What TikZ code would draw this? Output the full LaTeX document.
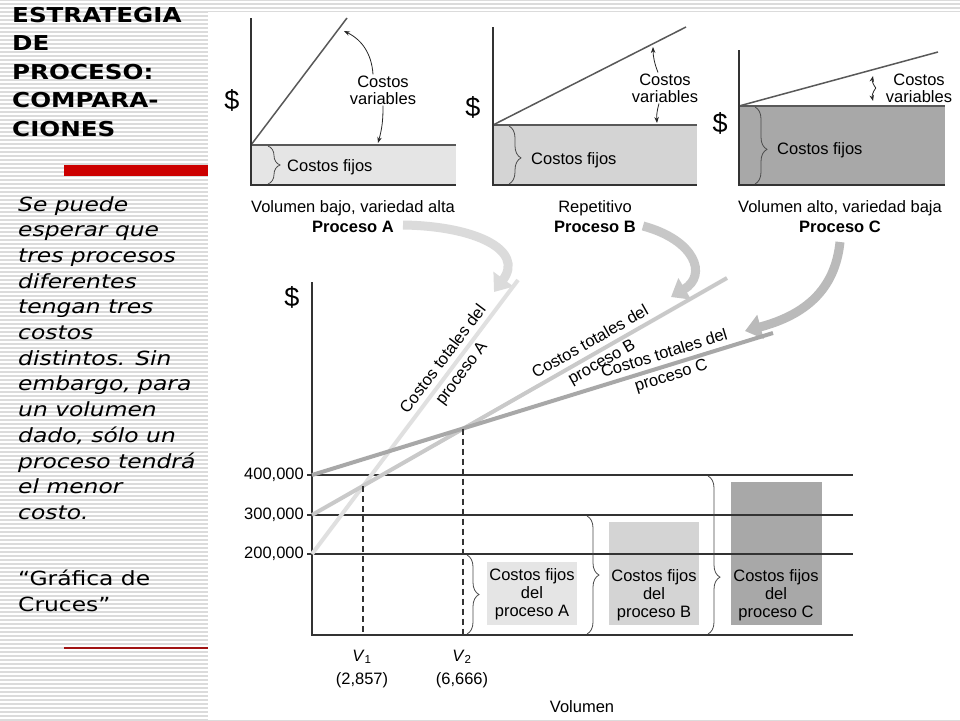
\documentclass[tikz,border=0pt]{standalone}
\usepackage{fontspec}
\setmainfont{Liberation Sans}
\newfontfamily\slidefont[FakeStretch=1.2]{DejaVu Sans}
\usetikzlibrary{arrows.meta,decorations.pathreplacing}

\definecolor{stripe}{gray}{0.86}
\definecolor{barred}{RGB}{204,0,0}
\definecolor{thinred}{RGB}{160,20,20}
\definecolor{fixA}{gray}{0.90}
\definecolor{fixB}{gray}{0.83}
\definecolor{fixC}{gray}{0.66}
\definecolor{lineA}{gray}{0.88}
\definecolor{lineB}{gray}{0.79}
\definecolor{lineC}{gray}{0.66}
\definecolor{arrA}{gray}{0.86}
\definecolor{arrB}{gray}{0.78}
\definecolor{arrC}{gray}{0.73}

\begin{document}
\begin{tikzpicture}[x=1pt,y=-1pt,
    txt/.style={inner sep=1pt,font=\fontsize{16.5}{17}\selectfont},
    captxt/.style={txt,align=center,font=\fontsize{16.5}{20}\selectfont},
    lbl/.style={inner sep=1pt,align=center,font=\fontsize{16.5}{23}\selectfont},
    boxtxt/.style={inner sep=1pt,align=center,font=\fontsize{16.5}{18}\selectfont},
    dollar/.style={inner sep=0pt,font=\fontsize{27}{27}\selectfont},
    axis/.style={line width=1.8pt,black!80},
    costline/.style={line width=1.5pt,black!65},
    fixbrace/.style={decorate,decoration={brace,amplitude=12pt,aspect=#1},line width=0.8pt,black!70},
    fixbrace/.default=0.5,
    varr/.style={-{Stealth[length=6pt,width=4.5pt]},line width=0.8pt,black!85},
    bigarr/.style={line width=9pt,-{Triangle[length=16pt,width=24pt]}},
    total/.style={line width=4pt},
    level/.style={line width=1.3pt,black!80},
    vline/.style={line width=1.3pt,dash pattern=on 6pt off 4pt,black!80}]
  \useasboundingbox (0,0) rectangle (960,720);

  % fondo rayado
  \foreach \yy in {0,4,...,720}
    \draw[stripe,line width=1.6pt] (0,\yy) -- (960,\yy);
  \fill[white] (208,12) rectangle (960,720);

  % panel izquierdo
  \node[anchor=north west,inner sep=0pt,align=left,
        font=\slidefont\bfseries\fontsize{20.5}{28.5}\selectfont] (title) at (12,7)
        {ESTRATEGIA\\DE\\PROCESO:\\COMPARA-\\CIONES};
  \fill[barred] (64,165) rectangle (208,176);
  \node[anchor=north west,inner sep=0pt,align=left,
        font=\slidefont\itshape\fontsize{19.5}{25.7}\selectfont] (body) at (18,196)
        {Se puede\\esperar que\\tres procesos\\diferentes\\tengan tres\\costos\\distintos. Sin\\embargo, para\\un volumen\\dado, sólo un\\proceso tendrá\\el menor\\costo.};
  \node[anchor=north west,inner sep=0pt,align=left,
        font=\slidefont\fontsize{19.5}{26}\selectfont] (quote) at (18,569.5)
        {“Gráfica de\\Cruces”};
  \draw[thinred,line width=1.5pt] (64,648) -- (208,648);

  % proceso A
  \fill[fixA] (251,145) rectangle (456,185);
  \draw[costline] (251,145) -- (456,145);
  \draw[costline] (251,145) -- (347,18);
  \draw[axis] (251,18) -- (251,185) -- (456,185);
  \node[dollar] (dA) at (232,100) {\$};
  \node[txt,align=center] (varA) at (383,90) {Costos\\variables};
  \coordinate (vA1) at (344,31);
  \coordinate (vA2) at (378,143);
  \draw[varr] ([xshift=-10pt]varA.north) to[bend right=30] (vA1);
  \draw[varr] (varA.south) to[bend left=8] (vA2);
  \draw[fixbrace] (268,146) -- (268,184);
  \node[txt,anchor=west] (fijA) at (286,167) {Costos fijos};
  \node[captxt] (capA) at (353,217) {Volumen bajo, variedad alta\\\textbf{Proceso A}};

  % proceso B
  \fill[fixB] (493,125) rectangle (697,185);
  \draw[costline] (493,125) -- (697,125);
  \draw[costline] (493,125) -- (686,27);
  \draw[axis] (493,27) -- (493,185) -- (697,185);
  \node[dollar] (dB) at (473,107) {\$};
  \node[txt,align=center] (varB) at (665,88) {Costos\\variables};
  \coordinate (vB1) at (653,47);
  \coordinate (vB2) at (657,123);
  \draw[varr] ([xshift=-7pt]varB.north) to[bend left=10] (vB1);
  \draw[varr] ([xshift=-6pt]varB.south) to[bend right=10] (vB2);
  \draw[fixbrace=0.55] (509,126) -- (509,184);
  \node[txt,anchor=west] (fijB) at (530,160) {Costos fijos};
  \node[captxt] (capB) at (595,217) {Repetitivo\\\textbf{Proceso B}};

  % proceso C
  \fill[fixC] (739,106) rectangle (945,185);
  \draw[costline] (739,106) -- (945,106);
  \draw[costline] (739,106) -- (938,52);
  \draw[axis] (739,50) -- (739,185) -- (945,185);
  \node[dollar] (dC) at (720,123) {\$};
  \node[txt,align=center] (varC) at (919,88) {Costos\\variables};
  \coordinate (vC1) at (873,76);
  \coordinate (vC2) at (873,101);
  \draw[varr] ([xshift=-9pt]varC.west) to[bend left=25] (vC1);
  \draw[varr] ([xshift=-9pt]varC.west) to[bend right=25] (vC2);
  \draw[fixbrace=0.55] (755,107) -- (755,184);
  \node[txt,anchor=west] (fijC) at (776,150) {Costos fijos};
  \node[captxt] (capC) at (840,217) {Volumen alto, variedad baja\\\textbf{Proceso C}};

  % flechas grandes
  \coordinate (tA) at (403,225);
  \coordinate (hA) at (494,292);
  \coordinate (tB) at (643,226);
  \coordinate (hB) at (671,297);
  \coordinate (tC) at (840,242);
  \coordinate (hC) at (745,331);
  \draw[bigarr,arrA] (tA) .. controls (475,226) and (525,250) .. (hA);
  \draw[bigarr,arrB] (tB) .. controls (695,240) and (708,275) .. (hB);
  \draw[bigarr,arrC] (tC) .. controls (835,290) and (805,315) .. (hC);

  % grafica de cruces
  \node[dollar] (dBig) at (292,297) {\$};
  \coordinate (bot) at (312,635);
  \fill[fixA] (487,562) rectangle (577,625);
  \fill[fixB] (609,522) rectangle (699,625);
  \fill[fixC] (731,482) rectangle (822,625);
  \node[boxtxt] (boxA) at (532,594) {Costos fijos\\del\\proceso A};
  \node[boxtxt] (boxB) at (654,595) {Costos fijos\\del\\proceso B};
  \node[boxtxt] (boxC) at (776,595) {Costos fijos\\del\\proceso C};
  \foreach \yy/\val in {475/{400,000},515/{300,000},554/{200,000}} {
    \draw[level] (307,\yy) -- (853,\yy);
    \node[txt,anchor=east] (l\yy) at (305,\yy) {\val};
  }
  \draw[axis] (312,282) -- (bot) -- (853,635);

  \coordinate (a0) at (312,554);
  \coordinate (a1) at (518,280);
  \coordinate (b0) at (312,515);
  \coordinate (b1) at (727,278);
  \coordinate (c0) at (312,475);
  \coordinate (c1) at (773,333);
  \draw[total,lineA] (a0) -- (a1) node[lbl,black,pos=0.684,sloped] (totA) {Costos totales del\\proceso A};
  \draw[total,lineB] (b0) -- (b1) node[lbl,black,pos=0.685,sloped] (totB) {Costos totales del\\proceso B};
  \draw[total,lineC] (c0) -- (c1) node[lbl,black,pos=0.772,sloped] (totC) {Costos totales del\\proceso C};

  \coordinate (v1) at (363,486);
  \coordinate (v2) at (463,428.5);
  \draw[vline] (v1) -- (v1 |- bot);
  \draw[vline] (v2) -- (v2 |- bot);

  \draw[fixbrace] (467,555) -- (467,634);
  \draw[fixbrace] (587,516) -- (587,634);
  \draw[fixbrace=0.64] (708,476) -- (708,634);

  \node[txt] (V1) at (362,657) {\textit{V}\textsubscript{1}};
  \node[txt] (V1val) at (362,680) {(2,857)};
  \node[txt] (V2) at (462,657) {\textit{V}\textsubscript{2}};
  \node[txt] (V2val) at (462,680) {(6,666)};
  \node[txt] (vol) at (582,707) {Volumen};
\end{tikzpicture}
\end{document}
